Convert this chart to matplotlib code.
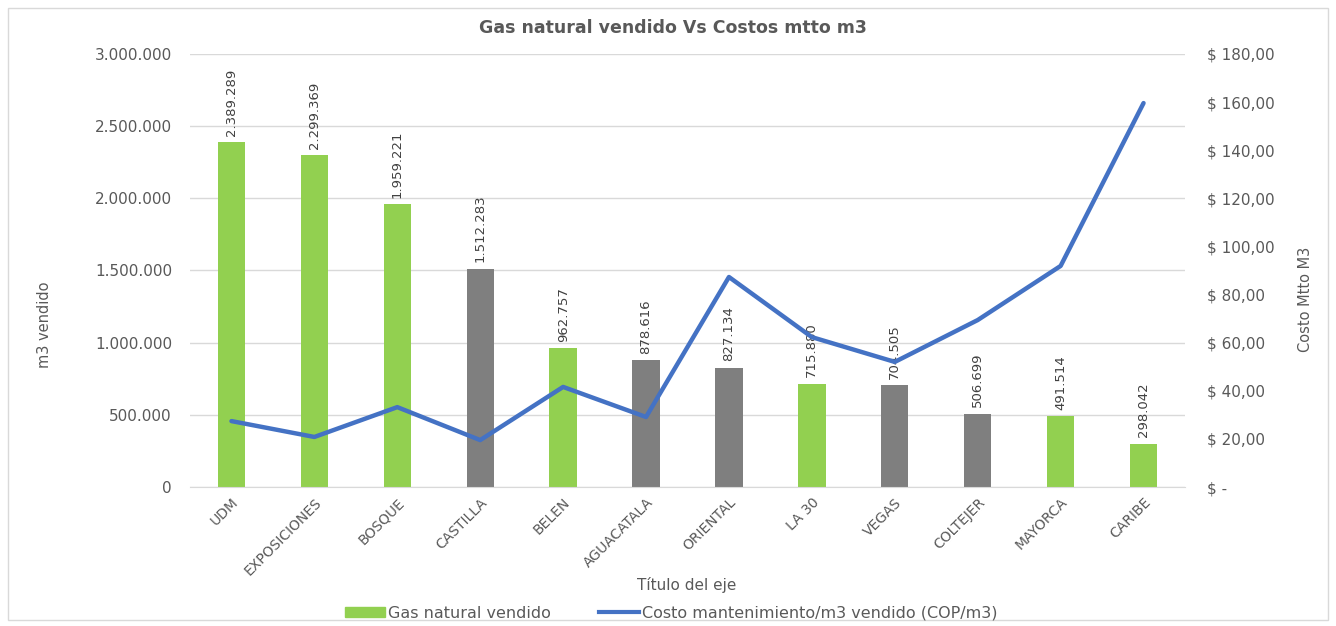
import matplotlib.pyplot as plt
from matplotlib.ticker import FuncFormatter
from matplotlib.patches import Rectangle

# data
sedes = ['UDM', 'EXPOSICIONES', 'BOSQUE', 'CASTILLA', 'BELEN', 'AGUACATALA',
         'ORIENTAL', 'LA 30', 'VEGAS', 'COLTEJER', 'MAYORCA', 'CARIBE']
gas_vendido = [2389289, 2299369, 1959221, 1512283, 962757, 878616,
               827134, 715880, 704505, 506699, 491514, 298042]
bar_tipo = ['g', 'g', 'g', 'k', 'g', 'k', 'k', 'g', 'k', 'k', 'g', 'g']
costo_m3 = [27.4, 20.8, 33.2, 19.5, 41.6, 29.1, 87.3, 62.3, 52.0, 69.4, 91.9, 159.6]

GREEN = '#92D050'
GRAY = '#7F7F7F'
BLUE = '#4472C4'
TXT = '#595959'

plt.rcParams['font.family'] = ['DejaVu Sans']

fig = plt.figure(figsize=(13.36, 6.26), dpi=100)
fig.patches.append(Rectangle((0.006, 0.01), 0.988, 0.978, transform=fig.transFigure,
                             fill=False, edgecolor='#D9D9D9', lw=1))
ax1 = fig.add_axes([190/1336, 1-487/626, 995/1336, 433/626])
ax2 = ax1.twinx()

x = range(len(sedes))
colors = [GREEN if t == 'g' else GRAY for t in bar_tipo]
ax1.bar(x, gas_vendido, width=0.33, color=colors, zorder=2)

fmt_num = lambda v: f'{int(v):,}'.replace(',', '.')
for xi, v in zip(x, gas_vendido):
    ax1.text(xi, v + 45000, fmt_num(v), rotation=90, ha='center', va='bottom',
             fontsize=9.5, color='#404040', zorder=4)

ax2.plot(x, costo_m3, color=BLUE, lw=3.2, zorder=3, solid_capstyle='round')

ax1.set_xlim(-0.5, len(sedes) - 0.5)
ax1.set_ylim(0, 3000000)
ax1.set_yticks(range(0, 3000001, 500000))
ax1.yaxis.set_major_formatter(FuncFormatter(lambda v, p: fmt_num(v)))
ax2.set_ylim(0, 180)
ax2.set_yticks(range(0, 181, 20))
ax2.yaxis.set_major_formatter(FuncFormatter(
    lambda v, p: '$ -' if v == 0 else f'$ {int(v)},00'))

ax1.grid(axis='y', color='#D9D9D9', lw=1, zorder=0)
ax1.set_axisbelow(True)
for a in (ax1, ax2):
    for s in a.spines.values():
        s.set_visible(False)
    a.tick_params(length=0, colors=TXT, labelsize=11)
ax1.spines['bottom'].set_visible(True)
ax1.spines['bottom'].set_color('#D9D9D9')
ax1.tick_params(axis='y', pad=13)
ax2.tick_params(axis='y', pad=16)

ax1.set_xticks(list(x))
ax1.set_xticklabels(sedes, rotation=45, ha='right', rotation_mode='anchor', fontsize=10)
ax1.tick_params(axis='x', pad=6)

ax1.set_xlabel('Título del eje', color=TXT, fontsize=11, labelpad=0)
ax1.xaxis.set_label_coords((687 - 190) / 995, -(577 - 487) / 433)
ax1.set_ylabel('m3 vendido', color=TXT, fontsize=10.5)
ax1.yaxis.set_label_coords(-(190 - 52) / 995, (487 - 325) / 433)
ax2.set_ylabel('Costo Mtto M3', color=TXT, fontsize=10.5, rotation=90)
ax2.yaxis.set_label_coords(1 + (1298 - 1185) / 995, (487 - 299) / 433)

fig.text(673 / 1336, 1 - 28/626, 'Gas natural vendido Vs Costos mtto m3',
         ha='center', va='center', fontsize=12.5, fontweight='bold', color=TXT)

h1 = Rectangle((0, 0), 1, 1, color=GREEN)
h2 = plt.Line2D([0], [0], color=BLUE, lw=3)
fig.legend([h1, h2], ['Gas natural vendido', 'Costo mantenimiento/m3 vendido (COP/m3)'],
           loc='center', bbox_to_anchor=(671 / 1336, 1 - 613/626), ncol=2,
           frameon=False, fontsize=11.5, labelcolor=TXT, handlelength=2.5,
           handleheight=0.6, columnspacing=3.0, handletextpad=0.2)

fig.savefig('out.png', dpi=100)
